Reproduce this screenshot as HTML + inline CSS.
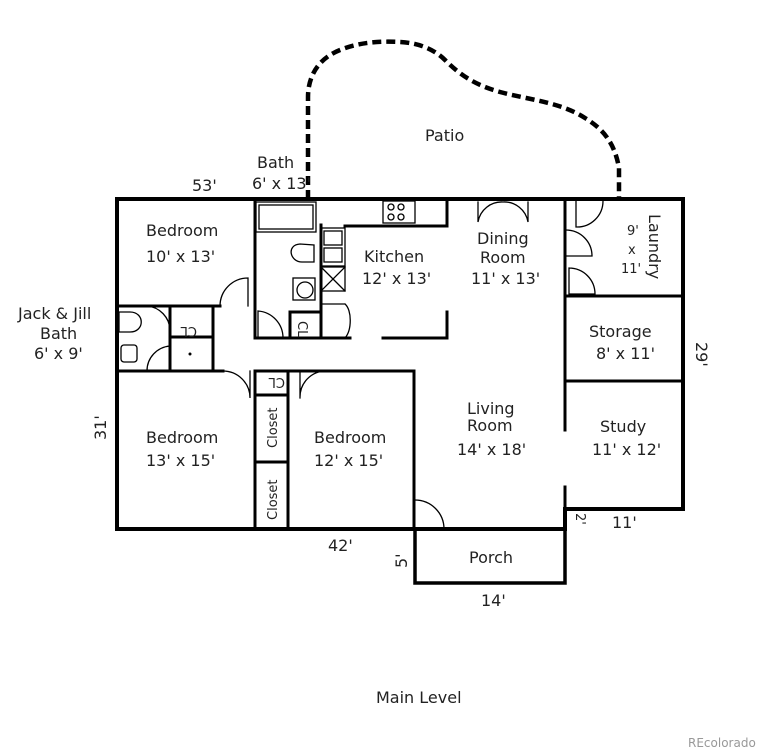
<!DOCTYPE html>
<html><head><meta charset="utf-8"><style>
html,body{margin:0;padding:0;background:#fff;}
svg{display:block;}
text{font-family:"DejaVu Sans","Liberation Sans",sans-serif;font-size:16px;fill:#222;}
.s{font-size:13px;}
</style></head><body>
<svg width="765" height="752" viewBox="0 0 765 752" xmlns="http://www.w3.org/2000/svg">
<path d="M308,199 L308,97 C308,80 315,60 340,50 C360,42 380,41 400,42 C420,43 435,50 445,60 C460,75 475,85 500,92 C530,100 560,102 585,118 C605,130 615,145 619,168 L619,199" fill="none" stroke="#000" stroke-width="4.5" stroke-dasharray="9,5"/>
<g stroke="#000" fill="none" stroke-linecap="square">
<path d="M117,199 L683,199 L683,509 L565,509 L565,529 L117,529 Z" stroke-width="4"/>
<path d="M415,529 L415,583 L565,583 L565,529" stroke-width="3.5"/>
<g stroke-width="3">
<line x1="255" y1="199" x2="255" y2="338"/>
<line x1="255" y1="338" x2="350" y2="338"/>
<line x1="345" y1="226" x2="447" y2="226"/>
<line x1="447" y1="199" x2="447" y2="226"/>
<line x1="383" y1="338" x2="447" y2="338"/>
<line x1="447" y1="312" x2="447" y2="338"/>
<line x1="117" y1="306" x2="220" y2="306"/>
<line x1="117" y1="371" x2="223" y2="371"/>
<line x1="255" y1="371" x2="414" y2="371"/>
<line x1="414" y1="371" x2="414" y2="529"/>
<line x1="565" y1="199" x2="565" y2="430"/>
<line x1="565" y1="487" x2="565" y2="509"/>
<line x1="565" y1="296" x2="683" y2="296"/>
<line x1="565" y1="381" x2="683" y2="381"/>
<line x1="213" y1="306" x2="213" y2="371"/>
<line x1="170" y1="306" x2="170" y2="371"/>
<line x1="170" y1="337" x2="213" y2="337"/>
<line x1="255" y1="371" x2="255" y2="529"/>
<line x1="288" y1="371" x2="288" y2="529"/>
<line x1="255" y1="395" x2="288" y2="395"/>
<line x1="255" y1="462" x2="288" y2="462"/>
<line x1="290" y1="312" x2="321" y2="312"/>
<line x1="290" y1="312" x2="290" y2="338"/>
<line x1="321" y1="225" x2="321" y2="338"/>
</g>
<g stroke-width="1.3">
<rect x="256" y="202" width="60" height="30"/><rect x="259" y="205" width="54" height="24"/>
<rect x="321" y="228" width="24" height="38"/><rect x="324" y="231" width="18" height="14"/><rect x="324" y="248" width="18" height="14"/>
<rect x="321" y="267" width="24" height="24"/><path d="M321,267 L345,291 M345,267 L321,291"/>
<path d="M345,304 C352,310 352,330 345,338 M321,304 L345,304"/>
<path d="M314,245 L314,262 L302,262 C290,262 286,245 300,244 Z"/>
<rect x="293" y="278" width="22" height="22"/><circle cx="305" cy="290" r="8"/>
<path d="M119,312 L119,332 L130,332 C145,332 145,312 130,312 Z"/>
<rect x="121" y="345" width="16" height="17" rx="3"/>
<rect x="383" y="201" width="32" height="22"/>
<circle cx="391" cy="207" r="3"/><circle cx="401" cy="207" r="3"/><circle cx="391" cy="217" r="3"/><circle cx="401" cy="217" r="3"/>
<path d="M220,306 A28,28 0 0 1 248,278 L248,306"/>
<path d="M258,338 L258,311 A27,27 0 0 1 283,338"/>
<path d="M147,306 A25,25 0 0 1 170,330"/>
<path d="M147,371 A25,25 0 0 1 170,346"/>
<path d="M223,371 A27,27 0 0 1 250,398 L250,371"/>
<path d="M300,398 A26,26 0 0 1 326,371 L300,371 L300,398"/>
<path d="M415,500 A29,29 0 0 1 444,529 L415,529"/>
<path d="M478,202 L478,222 A24,24 0 0 1 503,202 A24,24 0 0 1 528,222 L528,202"/>
<path d="M576,201 L576,227 A26,26 0 0 0 603,201"/>
<path d="M566,230 A26,26 0 0 1 592,256 L566,256"/>
<path d="M569,268 A26,26 0 0 1 595,294 L569,294 L569,268"/>
</g>
</g>
<text x="146" y="236">Bedroom</text><text x="146" y="262">10' x 13'</text>
<text x="364" y="262">Kitchen</text><text x="362" y="284">12' x 13'</text>
<text x="477" y="244">Dining</text><text x="480" y="263">Room</text><text x="471" y="284">11' x 13'</text>
<text x="589" y="337">Storage</text><text x="596" y="359">8' x 11'</text>
<text x="600" y="432">Study</text><text x="592" y="455">11' x 12'</text>
<text x="467" y="414">Living</text><text x="467" y="431">Room</text><text x="457" y="455">14' x 18'</text>
<text x="146" y="443">Bedroom</text><text x="146" y="466">13' x 15'</text>
<text x="314" y="443">Bedroom</text><text x="314" y="466">12' x 15'</text>
<text x="469" y="563">Porch</text>
<text x="425" y="141">Patio</text>
<text x="257" y="168">Bath</text><text x="252" y="189">6' x 13'</text>
<text x="192" y="191">53'</text>
<text x="18" y="319">Jack &amp; Jill</text><text x="40" y="339">Bath</text><text x="34" y="359">6' x 9'</text>
<text x="328" y="551">42'</text>
<text x="481" y="606">14'</text>
<text x="612" y="528">11'</text>
<text x="376" y="703">Main Level</text>
<text x="688" y="747" style="font-size:12px;fill:#999">REcolorado</text>
<text class="s" x="627" y="235">9'</text><text class="s" x="628" y="254">x</text><text class="s" x="621" y="273">11'</text>
<text transform="translate(649,214) rotate(90)">Laundry</text>
<text transform="translate(696,342) rotate(90)">29'</text>
<text transform="translate(106,440) rotate(-90)">31'</text>
<text transform="translate(407,568) rotate(-90)">5'</text>
<text transform="translate(576,513) rotate(90)" class="s">2'</text>
<text transform="translate(277,448) rotate(-90)" class="s">Closet</text>
<text transform="translate(277,520) rotate(-90)" class="s">Closet</text>
<text transform="translate(298,321) rotate(90)" class="s">CL</text>
<text transform="translate(197,327) rotate(180)" class="s">CL</text>
<text transform="translate(285,378) rotate(180)" class="s">CL</text>
<circle cx="190" cy="354" r="1.5" fill="#000"/>
</svg>
</body></html>
